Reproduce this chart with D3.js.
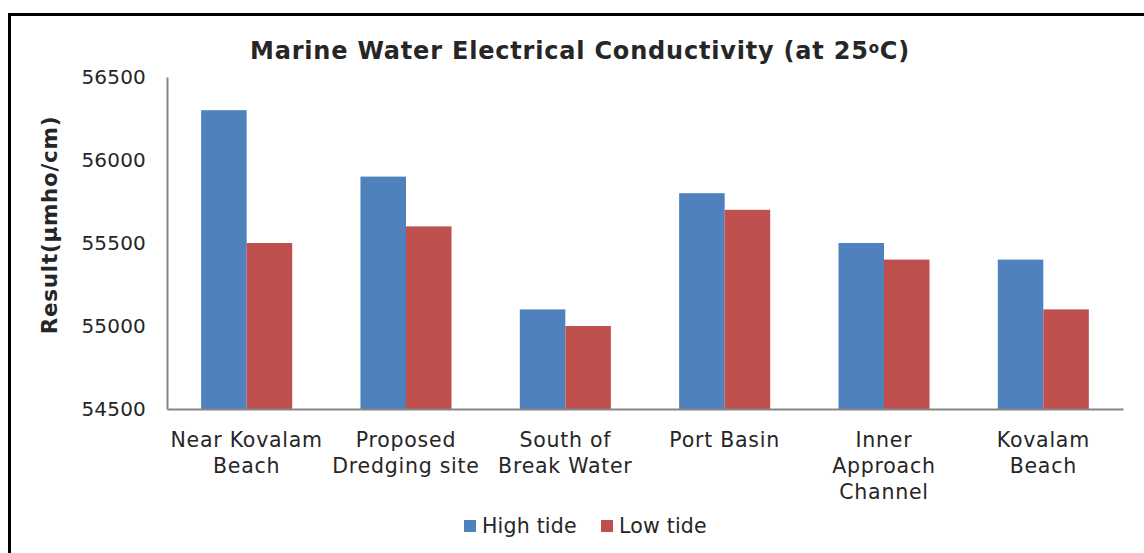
<!DOCTYPE html>
<html>
<head>
<meta charset="utf-8">
<script src="https://cdn.jsdelivr.net/npm/d3@7/dist/d3.min.js"></script>
<style>
  html, body { margin: 0; padding: 0; background: #fff; }
  svg text { font-family: "DejaVu Sans", Verdana, sans-serif; fill: #262626; }
</style>
</head>
<body>
<svg id="chart" width="1144" height="553"></svg>
<script>
const categories = [
  ["Near Kovalam", "Beach"],
  ["Proposed", "Dredging site"],
  ["South of", "Break Water"],
  ["Port Basin"],
  ["Inner", "Approach", "Channel"],
  ["Kovalam", "Beach"]
];
const highTide = [56300, 55900, 55100, 55800, 55500, 55400];
const lowTide  = [55500, 55600, 55000, 55700, 55400, 55100];
const seriesNames = ["High tide", "Low tide"];
const yTicks = [54500, 55000, 55500, 56000, 56500];
const colors = ["#4F81BD", "#C0504D"];

const svg = d3.select("#chart");

// frame
svg.append("path")
  .attr("d", "M9.5,1200 L9.5,14.5 L1200,14.5")
  .attr("fill", "none").attr("stroke", "#000").attr("stroke-width", 3);

const plot = {left: 167, right: 1123, top: 77, bottom: 409};

const x0 = d3.scaleBand().domain(d3.range(categories.length))
  .range([plot.left, plot.right]).paddingInner(0).paddingOuter(0);
const y = d3.scaleLinear().domain([54500, 56500]).range([plot.bottom, plot.top]);

const bw = x0.bandwidth() / 3.5;

const series = [highTide, lowTide];
series.forEach((vals, si) => {
  svg.append("g").selectAll("rect").data(vals).join("rect")
    .attr("x", (d, i) => x0(i) + x0.bandwidth() / 2 - bw + si * bw)
    .attr("y", d => y(d))
    .attr("width", bw)
    .attr("height", d => y(54500) - y(d))
    .attr("fill", colors[si]);
});

// y axis
const yAxis = d3.axisLeft(y).tickValues(yTicks).tickSize(0).tickPadding(21).tickFormat(d3.format("d"));
const gy = svg.append("g").attr("transform", `translate(${plot.left},0)`).call(yAxis);
gy.select(".domain").attr("stroke", "#868686").attr("stroke-width", 2);
gy.selectAll("text").attr("font-size", 20).attr("letter-spacing", 0.2).attr("fill", "#262626")
  .attr("font-family", '"DejaVu Sans", Verdana, sans-serif');

// x axis line
const xAxis = d3.axisBottom(x0).tickSize(0).tickFormat("");
const gx = svg.append("g").attr("transform", `translate(0,${plot.bottom})`).call(xAxis);
gx.select(".domain").attr("stroke", "#868686").attr("stroke-width", 2);

// category labels
categories.forEach((lines, i) => {
  const t = svg.append("text")
    .attr("x", x0(i) + x0.bandwidth() / 2)
    .attr("y", 447)
    .attr("text-anchor", "middle")
    .attr("font-size", 20.5)
    .attr("letter-spacing", 0.75);
  lines.forEach((ln, j) => {
    t.append("tspan").attr("x", x0(i) + x0.bandwidth() / 2)
      .attr("dy", j === 0 ? 0 : 26).text(ln);
  });
});

// title
const title = svg.append("text").attr("x", 580).attr("y", 59)
  .attr("text-anchor", "middle").attr("font-size", 24).attr("font-weight", "bold")
  .attr("letter-spacing", 0.8)
  .attr("fill", "#000");
title.append("tspan").text("Marine Water Electrical Conductivity (at 25");
title.append("tspan").attr("font-size", 15).attr("dy", -6).text("o");
title.append("tspan").attr("dy", 6).text("C)");

// y title
svg.append("text")
  .attr("transform", "translate(57,225) rotate(-90)")
  .attr("text-anchor", "middle").attr("font-size", 21.5).attr("font-weight", "bold")
  .attr("letter-spacing", 0.7)
  .attr("fill", "#000")
  .text("Result(µmho/cm)");

// legend
const legendItems = [
  {name: seriesNames[0], color: colors[0], x: 464},
  {name: seriesNames[1], color: colors[1], x: 601}
];
legendItems.forEach(it => {
  svg.append("rect").attr("x", it.x).attr("y", 520).attr("width", 12).attr("height", 12).attr("fill", it.color);
  svg.append("text").attr("x", it.x + 18).attr("y", 533).attr("font-size", 20.5)
    .attr("letter-spacing", 0.2).text(it.name);
});
</script>
</body>
</html>
